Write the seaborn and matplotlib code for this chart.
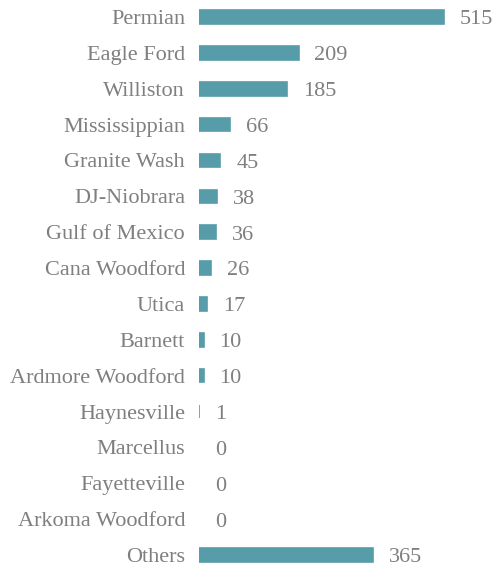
import matplotlib
matplotlib.use("Agg")
import matplotlib.pyplot as plt
import seaborn as sns
import pandas as pd

basins = ["Permian", "Eagle Ford", "Williston", "Mississippian", "Granite Wash",
          "DJ-Niobrara", "Gulf of Mexico", "Cana Woodford", "Utica", "Barnett",
          "Ardmore Woodford", "Haynesville", "Marcellus", "Fayetteville",
          "Arkoma Woodford", "Others"]
rigs = [515, 209, 185, 66, 45, 38, 36, 26, 17, 10, 10, 1, 0, 0, 0, 365]

df = pd.DataFrame({"basin": basins, "rigs": rigs})

sns.set_theme(style="white")
FAM = ["Liberation Serif", "DejaVu Serif"]
plt.rcParams["font.family"] = FAM

fig = plt.figure(figsize=(4.95, 5.69), dpi=100)
ax = fig.add_axes([199/495, 0, (490-199)/495, 1])

bar_color = "#579DA9"
text_color = "#7F7F7F"
sns.barplot(data=df, x="rigs", y="basin", order=basins, color=bar_color,
            saturation=1, width=0.38, edgecolor=bar_color, linewidth=1.2, ax=ax)
for p, v in zip(ax.patches, rigs):
    if v == 0:
        p.set_visible(False)

for i, v in enumerate(rigs):
    ax.text(v + 33, i + 0.08, str(v), va="center", ha="left", fontsize=16,
            color=text_color, family=FAM)

ax.set_xlim(0, 611)
ax.set_ylim(15.39, -0.474)
ax.set_xlabel("")
ax.set_ylabel("")
ax.set_xticks([])
ax.tick_params(axis="y", length=0, pad=10, labelsize=16, labelcolor=text_color)
for lbl in ax.get_yticklabels():
    lbl.set_family(FAM)
for s in ax.spines.values():
    s.set_visible(False)

fig.savefig("out.png", dpi=100)
